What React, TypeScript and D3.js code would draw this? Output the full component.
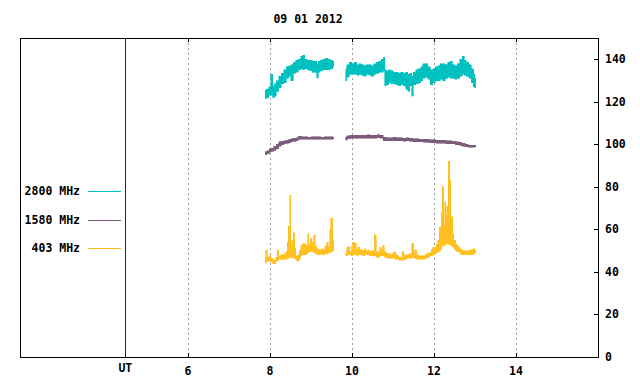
import React from "react";
import * as d3 from "d3";

const title = "09 01 2012";
const xTicks = [6, 8, 10, 12, 14];
const yTicks = [0, 20, 40, 60, 80, 100, 120, 140];
const xAxisLabel = "UT";
const utMarker = 4.47;
const seriesNames = ["2800 MHz", "1580 MHz", "403 MHz"];
const seriesColors = ["#00c0c0", "#7c5c7c", "#ffc020"];

// [UT hour, low, high]
const cyan2800: [number, number, number][] = [
  [7.88, 121.5, 125.5], [7.94, 122, 126], [8.0, 123, 127], [8.04, 123, 133], [8.08, 122, 127.5],
  [8.12, 122.5, 128.5], [8.18, 125, 130], [8.24, 126.5, 132], [8.3, 128.5, 133.5], [8.36, 129, 135],
  [8.42, 131, 136.5], [8.48, 132, 137], [8.54, 130, 137.5], [8.6, 133.5, 138.5], [8.66, 134, 139.5],
  [8.72, 135, 140], [8.78, 135.5, 141.5], [8.82, 135, 142], [8.88, 135.5, 140], [8.94, 135, 139.5],
  [9.0, 134.5, 139.5], [9.06, 134, 139], [9.12, 134, 139], [9.15, 131, 138], [9.2, 134, 139],
  [9.26, 134.5, 139.5], [9.32, 135, 140], [9.38, 135, 140.5], [9.44, 135, 140], [9.5, 135.5, 139.5],
  [9.53, 136.5, 139],
  [9.85, 130, 135.5], [9.9, 131.5, 137.5], [9.96, 133, 138.5], [10.02, 133, 138], [10.08, 133, 138.5],
  [10.14, 132.5, 137.5], [10.2, 133, 138], [10.26, 132.5, 137.5], [10.32, 132, 137], [10.38, 133, 137.5],
  [10.44, 132.5, 137.5], [10.5, 132, 137], [10.56, 133, 138], [10.62, 133.5, 138.5], [10.68, 134, 139],
  [10.74, 134, 140], [10.78, 134.5, 141], [10.81, 127.5, 135], [10.86, 128, 134.5], [10.92, 129, 135],
  [10.98, 128.5, 134.5], [11.04, 128.5, 134], [11.1, 128, 134], [11.16, 127.5, 133.5], [11.22, 128, 134],
  [11.28, 127.5, 133.5], [11.34, 126, 134], [11.38, 125, 133], [11.44, 127.5, 133.5], [11.47, 122.5, 132],
  [11.52, 128, 134], [11.58, 128.5, 135], [11.64, 129, 135.5], [11.7, 130, 136.5], [11.76, 131, 138],
  [11.82, 131.5, 138], [11.88, 130.5, 136.5], [11.94, 128, 135], [12.0, 129, 135.5], [12.06, 130, 136.5],
  [12.12, 130, 137], [12.18, 130.5, 138], [12.24, 130, 138], [12.3, 131, 137.5], [12.36, 131.5, 138.5],
  [12.42, 131, 139], [12.48, 131, 137.5], [12.54, 130.5, 137], [12.6, 131, 138], [12.66, 132, 140],
  [12.71, 133, 141.5], [12.76, 132.5, 139.5], [12.82, 132, 138.5], [12.88, 131, 137.5], [12.94, 129, 135.5],
  [12.98, 127, 133], [13.01, 126.5, 131],
];

const purple1580: [number, number, number][] = [
  [7.88, 95, 96.5], [7.95, 95.5, 97], [8.0, 96.2, 98], [8.06, 96.8, 98.2], [8.12, 97.3, 99],
  [8.18, 98, 100], [8.24, 99.2, 101.2], [8.3, 99.8, 101.5], [8.36, 100.2, 101.8], [8.42, 100.5, 102],
  [8.48, 100.8, 102.3], [8.54, 101.2, 102.6], [8.6, 101.5, 102.9], [8.66, 101.8, 103.2], [8.72, 102.3, 103.8],
  [8.8, 102.3, 103.5], [8.88, 102.3, 103.5], [8.96, 102.3, 103.4], [9.04, 102.4, 103.6], [9.12, 102.3, 103.5],
  [9.2, 102.4, 103.6], [9.28, 102.3, 103.4], [9.36, 102.4, 103.6], [9.44, 102.5, 103.5], [9.53, 102.3, 103.5],
  [9.85, 102, 103.5], [9.92, 102.6, 104], [10.0, 102.8, 104.2], [10.08, 102.8, 104.3], [10.16, 102.8, 104.2],
  [10.24, 102.9, 104.3], [10.32, 102.8, 104.2], [10.4, 102.9, 104.4], [10.48, 102.8, 104.2], [10.56, 102.9, 104.3],
  [10.64, 103, 104.6], [10.72, 102.8, 104.2], [10.8, 101.8, 103.4], [10.88, 101.8, 103.2], [10.96, 101.8, 103.2],
  [11.04, 101.8, 103.3], [11.12, 101.7, 103], [11.2, 101.8, 103.2], [11.28, 101.5, 102.9], [11.36, 101.6, 103],
  [11.44, 101.4, 102.8], [11.52, 101.3, 102.7], [11.6, 101.2, 102.6], [11.68, 101.2, 102.5], [11.76, 101, 102.5],
  [11.84, 100.9, 102.3], [11.92, 100.8, 102.2], [12.0, 100.7, 102.1], [12.08, 100.6, 102], [12.16, 100.6, 102],
  [12.24, 100.5, 101.9], [12.32, 100.3, 101.8], [12.4, 100.3, 101.7], [12.48, 100.2, 101.5], [12.56, 99.9, 101.2],
  [12.64, 99.6, 101], [12.72, 99.2, 100.5], [12.8, 98.8, 100], [12.88, 98.6, 99.6], [12.96, 98.6, 99.5],
  [13.01, 98.6, 99.6],
];

const yellow403: [number, number, number][] = [
  [7.88, 44, 46.5], [7.91, 44.5, 50.3], [7.95, 45, 47], [8.0, 45, 47.5], [8.04, 44.5, 46.5],
  [8.08, 43.8, 45.8], [8.12, 43.8, 45.5], [8.16, 45, 47], [8.19, 45.5, 50.3], [8.24, 46, 47.5],
  [8.28, 46, 48], [8.32, 46, 48], [8.36, 46, 48.5], [8.4, 46, 49.5], [8.43, 46.5, 54],
  [8.45, 46.5, 61.5], [8.47, 47, 59], [8.49, 47, 76], [8.52, 47, 52], [8.55, 46.5, 55],
  [8.58, 47, 58.5], [8.61, 46.5, 51], [8.64, 45.5, 47.5], [8.67, 45, 47.5], [8.7, 45.5, 48],
  [8.73, 46.5, 50], [8.76, 47.5, 52], [8.79, 48, 53], [8.82, 48, 53.5], [8.86, 48, 53],
  [8.9, 48.5, 52], [8.93, 49, 58], [8.96, 49.5, 53], [9.0, 50, 55.5], [9.04, 49.5, 54],
  [9.08, 49, 57.5], [9.12, 48.5, 52], [9.16, 48, 51], [9.2, 48, 50.5], [9.24, 48.5, 50.5],
  [9.28, 48, 51], [9.32, 48, 50], [9.36, 48.5, 52], [9.4, 48.5, 54], [9.44, 49, 51.5],
  [9.47, 49, 60], [9.5, 49.5, 65.5], [9.53, 50, 55],
  [9.85, 47.5, 49], [9.88, 47.5, 51.5], [9.92, 48, 51.8], [9.96, 48, 49.5], [10.0, 47.5, 52],
  [10.04, 48, 54], [10.08, 48.5, 53.5], [10.12, 47.5, 50.5], [10.16, 48, 51.5], [10.2, 48, 50.5],
  [10.24, 48, 50.5], [10.28, 47.5, 50], [10.32, 48, 51], [10.36, 48, 50], [10.4, 48, 50.5],
  [10.44, 47.5, 49.5], [10.48, 47.5, 50], [10.52, 47.5, 50], [10.57, 47.5, 57.5], [10.61, 47, 49.5],
  [10.65, 47, 49.5], [10.69, 47.5, 51.5], [10.73, 47.5, 50.5], [10.76, 47.5, 52.5], [10.8, 47, 49.5],
  [10.84, 47, 49], [10.88, 46.5, 48.5], [10.92, 46.5, 48.5], [10.96, 46.5, 48], [11.0, 46.5, 48.5],
  [11.04, 46.5, 49.5], [11.08, 46, 48], [11.12, 46, 47.5], [11.16, 45.5, 47], [11.2, 45.5, 47],
  [11.24, 45.5, 49.5], [11.28, 46, 48], [11.32, 46, 47.5], [11.36, 46.5, 48], [11.4, 46.5, 48.5],
  [11.44, 46.5, 48.5], [11.48, 47, 53.5], [11.52, 46.5, 49], [11.55, 46.5, 50.5], [11.59, 46, 48],
  [11.63, 46, 47.5], [11.67, 46, 47.5], [11.71, 46, 47.5], [11.75, 46, 47.5], [11.79, 46.5, 48],
  [11.83, 46.5, 48.5], [11.87, 47, 49], [11.91, 47.5, 49], [11.95, 47.5, 50.5], [11.99, 48, 51.5],
  [12.03, 48.5, 51.5], [12.07, 49, 53], [12.11, 49.5, 55], [12.14, 50, 61], [12.16, 51, 58],
  [12.19, 52, 68], [12.22, 52.5, 80], [12.25, 52, 62], [12.27, 53, 73], [12.3, 53, 67],
  [12.33, 53.5, 71], [12.36, 53, 92], [12.38, 53, 83], [12.41, 52.5, 61], [12.44, 52, 66],
  [12.47, 51.5, 58], [12.5, 51, 55], [12.53, 50, 53], [12.57, 49.5, 52.5], [12.61, 49.5, 51.5],
  [12.65, 48.5, 51], [12.69, 48, 50.5], [12.73, 48, 50], [12.77, 48, 50], [12.81, 48, 50],
  [12.85, 48, 50], [12.89, 48, 50.5], [12.93, 48, 50.5], [12.97, 48.5, 51], [13.01, 49, 50.5],
];

const seriesData = [cyan2800, purple1580, yellow403];

const W = 640;
const H = 384;
const L = 20, R = 598, T = 38, B = 357;
const FONT = "'DejaVu Sans Mono', monospace";

function splitSegments(rows: [number, number, number][]) {
  const segs: [number, number, number][][] = [];
  let cur: [number, number, number][] = [];
  rows.forEach((r, i) => {
    if (i > 0 && r[0] - rows[i - 1][0] > 0.2) {
      segs.push(cur);
      cur = [];
    }
    cur.push(r);
  });
  if (cur.length) segs.push(cur);
  return segs;
}

export default function App() {
  const x = d3.scaleLinear().domain([1.9, 16]).range([L, R]);
  const y = d3.scaleLinear().domain([0, 150]).range([B, T]);
  const px = (v: number) => Math.round(x(v)) + 0.5;
  const py = (v: number) => Math.round(y(v)) + 0.5;

  const area = d3
    .area<[number, number, number]>()
    .curve(d3.curveStep)
    .x((d) => x(d[0]))
    .y0((d) => y(d[1]))
    .y1((d) => y(d[2]));

  return (
    <svg
      width={W}
      height={H}
      style={{ position: "fixed", left: 0, top: 0, background: "#fff" }}
      fontFamily={FONT}
      fontWeight="bold"
      fontSize={11.5}
    >
      <rect x={0} y={0} width={W} height={H} fill="#fff" />
      <text x={308} y={23} textAnchor="middle" fill="#000">
        {title}
      </text>

      {/* grid */}
      {xTicks.map((t) => (
        <line
          key={"g" + t}
          x1={px(t)}
          x2={px(t)}
          y1={T}
          y2={B}
          stroke="#a0a0a0"
          strokeDasharray="2,3"
          shapeRendering="crispEdges"
        />
      ))}

      {/* UT marker */}
      <line x1={px(utMarker)} x2={px(utMarker)} y1={T} y2={B} stroke="#800000" shapeRendering="crispEdges" />

      {/* series */}
      {seriesData.map((rows, si) =>
        splitSegments(rows).map((seg, k) => (
          <g key={si + "-" + k}>
            <path
              d={area(seg) || ""}
              fill={seriesColors[si]}
              stroke={seriesColors[si]}
              strokeWidth={0.6}
              shapeRendering="crispEdges"
            />
            {seg.map((d, j) => (
              <line
                key={j}
                x1={px(d[0])}
                x2={px(d[0])}
                y1={y(d[1])}
                y2={y(d[2])}
                stroke={seriesColors[si]}
                shapeRendering="crispEdges"
              />
            ))}
          </g>
        ))
      )}

      {/* frame */}
      <rect x={L + 0.5} y={T + 0.5} width={R - L} height={B - T} fill="none" stroke="#000" shapeRendering="crispEdges" />

      {/* x ticks */}
      {xTicks.map((t) => (
        <g key={"xt" + t}>
          <line x1={px(t)} x2={px(t)} y1={B + 0.5} y2={B - 4} stroke="#000" shapeRendering="crispEdges" />
          <line x1={px(t)} x2={px(t)} y1={T + 0.5} y2={T + 4} stroke="#000" shapeRendering="crispEdges" />
          <text x={x(t)} y={375} textAnchor="middle" fill="#000">
            {t}
          </text>
        </g>
      ))}
      <text x={x(utMarker)} y={372} textAnchor="middle" fill="#000">
        {xAxisLabel}
      </text>

      {/* y ticks */}
      {yTicks.map((v) => (
        <g key={"yt" + v}>
          <line x1={R - 4} x2={R + 0.5} y1={py(v)} y2={py(v)} stroke="#000" shapeRendering="crispEdges" />
          <text x={605} y={y(v) + 4} textAnchor="start" fill="#000">
            {v}
          </text>
        </g>
      ))}

      {/* legend */}
      {seriesNames.map((name, i) => (
        <g key={name}>
          <text x={80} y={195 + i * 28.5} textAnchor="end" fill="#000">
            {name}
          </text>
          <line
            x1={88}
            x2={121}
            y1={191.5 + i * 28.5}
            y2={191.5 + i * 28.5}
            stroke={seriesColors[i]}
            shapeRendering="crispEdges"
          />
        </g>
      ))}
    </svg>
  );
}
